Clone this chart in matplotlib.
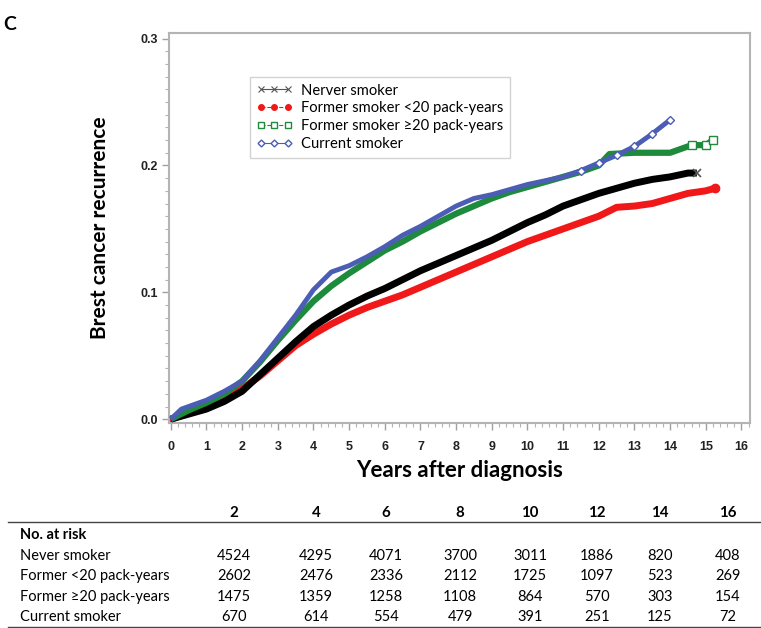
import matplotlib
matplotlib.use("Agg")
import matplotlib.pyplot as plt
from matplotlib.ticker import MultipleLocator
from matplotlib.lines import Line2D

# ---------------- data ----------------
series_names = ["Nerver smoker", "Former smoker <20 pack-years",
                "Former smoker \u226520 pack-years", "Current smoker"]

never_t = [0, 0.5, 1, 1.5, 2, 2.5, 3, 3.5, 4, 4.5, 5, 5.5, 6, 6.5, 7, 7.5, 8, 8.5,
           9, 9.5, 10, 10.5, 11, 11.5, 12, 12.5, 13, 13.5, 14, 14.5, 14.75]
never_y = [0, 0.004, 0.008, 0.014, 0.022, 0.035, 0.048, 0.061, 0.073, 0.082, 0.090,
           0.097, 0.103, 0.110, 0.117, 0.123, 0.129, 0.135, 0.141, 0.148, 0.155,
           0.161, 0.168, 0.173, 0.178, 0.182, 0.186, 0.189, 0.191, 0.194, 0.194]

former_lt20_t = [0, 0.5, 1, 1.5, 2, 2.5, 3, 3.5, 4, 4.5, 5, 5.5, 6, 6.5, 7, 7.5, 8,
                 8.5, 9, 9.5, 10, 10.5, 11, 11.5, 12, 12.5, 13, 13.5, 14, 14.5, 15, 15.25]
former_lt20_y = [0, 0.005, 0.010, 0.016, 0.024, 0.034, 0.046, 0.058, 0.067, 0.075,
                 0.082, 0.088, 0.093, 0.098, 0.104, 0.110, 0.116, 0.122, 0.128, 0.134,
                 0.140, 0.145, 0.150, 0.155, 0.160, 0.167, 0.168, 0.170, 0.174, 0.178,
                 0.180, 0.182]

former_ge20_t = [0, 0.5, 1, 1.5, 2, 2.5, 3, 3.5, 4, 4.5, 5, 5.5, 6, 6.5, 7, 7.5, 8,
                 8.5, 9, 9.5, 10, 10.5, 11, 11.5, 12, 12.3, 13, 14, 14.6, 15.0, 15.2]
former_ge20_y = [0, 0.007, 0.013, 0.020, 0.030, 0.045, 0.062, 0.078, 0.093, 0.105,
                 0.115, 0.124, 0.133, 0.140, 0.148, 0.155, 0.162, 0.168, 0.174, 0.179,
                 0.183, 0.187, 0.191, 0.195, 0.200, 0.209, 0.210, 0.210, 0.216, 0.216,
                 0.220]

current_t = [0, 0.3, 0.5, 1, 1.5, 2, 2.5, 3, 3.5, 4, 4.5, 5, 5.5, 6, 6.5, 7, 7.5, 8,
             8.5, 9, 9.5, 10, 10.5, 11, 11.5, 12, 12.5, 13, 13.5, 14]
current_y = [0, 0.008, 0.010, 0.015, 0.022, 0.030, 0.046, 0.064, 0.082, 0.102, 0.116,
             0.121, 0.128, 0.136, 0.145, 0.152, 0.160, 0.168, 0.174, 0.177, 0.181,
             0.185, 0.188, 0.191, 0.196, 0.202, 0.208, 0.215, 0.225, 0.236]

# at-risk table
risk_times = ["2", "4", "6", "8", "10", "12", "14", "16"]
risk_rows = ["Never smoker", "Former <20 pack-years", "Former \u226520 pack-years", "Current smoker"]
risk_never = [4524, 4295, 4071, 3700, 3011, 1886, 820, 408]
risk_lt20 = [2602, 2476, 2336, 2112, 1725, 1097, 523, 269]
risk_ge20 = [1475, 1359, 1258, 1108, 864, 570, 303, 154]
risk_current = [670, 614, 554, 479, 391, 251, 125, 72]

# ---------------- figure ----------------
W, H = 761, 628
fig = plt.figure(figsize=(W / 100, H / 100), dpi=100)

def fx(px):
    return px / W

def fy(py):
    return 1 - py / H

ax = fig.add_axes([fx(169), fy(423), fx(750) - fx(169), fy(33) - fy(423)])

text_font = ["Lato", "DejaVu Sans"]
tick_font = ["Liberation Sans", "DejaVu Sans"]

c_black = "#000000"
c_red = "#F01818"
c_green = "#1E8A3C"
c_blue = "#4B5DB4"

# draw order: red, black, green, blue
ax.plot(former_lt20_t, former_lt20_y, color=c_red, lw=5, solid_capstyle="round", zorder=2)
ax.plot(former_lt20_t[-1:], former_lt20_y[-1:], ls="none", marker="o", ms=6, color=c_red, zorder=2)
ax.plot(never_t, never_y, color=c_black, lw=5, solid_capstyle="butt", zorder=3)
ax.plot(never_t[-1:], never_y[-1:], ls="none", marker="x", ms=6, mew=1.2, color="#555555", zorder=3)
ax.plot(former_ge20_t, former_ge20_y, color=c_green, lw=4.5, solid_capstyle="butt", zorder=4)
ax.plot(former_ge20_t[-3:], former_ge20_y[-3:], ls="none", marker="s", ms=6, mfc="white",
        mec=c_green, mew=1, zorder=4)
ax.plot(current_t, current_y, color=c_blue, lw=3.5, solid_capstyle="butt", zorder=5)
ax.plot(current_t[-6:], current_y[-6:], ls="none", marker="D", ms=4, mfc="white",
        mec=c_blue, mew=1, zorder=5)

ax.set_xlim(-0.05, 16.24)
ax.set_ylim(-0.003, 0.3044)
ax.xaxis.set_major_locator(MultipleLocator(1))
ax.xaxis.set_minor_locator(MultipleLocator(0.2))
ax.yaxis.set_minor_locator(MultipleLocator(0.01))
ax.set_yticks([0, 0.1, 0.2, 0.3])
ax.set_yticklabels(["0.0", "0.1", "0.2", "0.3"])

for sp in ax.spines.values():
    sp.set_color("#B4B4B4")
    sp.set_linewidth(1.5)
ax.tick_params(which="major", length=5, width=1, color="#A0A0A0")
ax.tick_params(which="minor", length=3, width=0.8, color="#B4B4B4")
ax.tick_params(axis="x", pad=8)
ax.tick_params(axis="y", pad=3)
for lab in ax.get_xticklabels() + ax.get_yticklabels():
    lab.set_fontfamily(tick_font)
    lab.set_fontweight("bold")
    lab.set_fontsize(9)
    lab.set_color("#222222")

ax.set_ylabel("Brest cancer recurrence", fontsize=15, fontweight="bold",
              family=text_font, labelpad=22)
ax.set_xlabel("Years after diagnosis", fontsize=16, fontweight="bold",
              family=text_font, labelpad=5)

# legend
handles = [
    Line2D([], [], color="#555555", lw=0.8, marker="x", ms=4, mew=0.8),
    Line2D([], [], color=c_red, lw=0.8, ls="--", marker="o", ms=4),
    Line2D([], [], color=c_green, lw=0.8, ls="--", marker="s", ms=4, mfc="white"),
    Line2D([], [], color=c_blue, lw=0.8, marker="D", ms=3.5, mfc="white"),
]
leg = ax.legend(handles, series_names, loc="upper left",
                bbox_to_anchor=((250 - 169) / (750 - 169), 1 - (77 - 33) / (423 - 33)),
                frameon=True, fancybox=False, edgecolor="#C8C8C8",
                prop={"family": text_font, "size": 10.6}, handlelength=2.4,
                handletextpad=0.6, labelspacing=0.26, borderpad=0.45,
                numpoints=3, borderaxespad=0)
leg.get_frame().set_linewidth(1.0)

# panel letter
fig.text(fx(3), fy(25), "C", fontsize=14, fontweight="bold", family=text_font,
         va="center", ha="left")

# at-risk table
fs = 10.5
col_x = [234, 316, 386, 460, 530, 597, 660, 728]
for x, t in zip(col_x, risk_times):
    fig.text(fx(x), fy(513), t, ha="center", va="center", fontsize=fs + 0.3,
             fontweight="bold", family=text_font)
fig.add_artist(Line2D([fx(8), fx(761)], [fy(522), fy(522)], color="#444444", lw=1))
fig.text(fx(20), fy(535), "No. at risk", ha="left", va="center", fontsize=fs,
         fontweight="bold", family=text_font)
row_y = [556, 576, 597, 617]
for y, name, vals in zip(row_y, risk_rows, [risk_never, risk_lt20, risk_ge20, risk_current]):
    fig.text(fx(20), fy(y), name, ha="left", va="center", fontsize=fs, family=text_font)
    for x, v in zip(col_x, vals):
        fig.text(fx(x), fy(y), str(v), ha="center", va="center", fontsize=fs,
                 family=text_font)
fig.add_artist(Line2D([fx(8), fx(761)], [fy(626.5), fy(626.5)], color="#444444", lw=1))

fig.savefig("out.png", dpi=100)
